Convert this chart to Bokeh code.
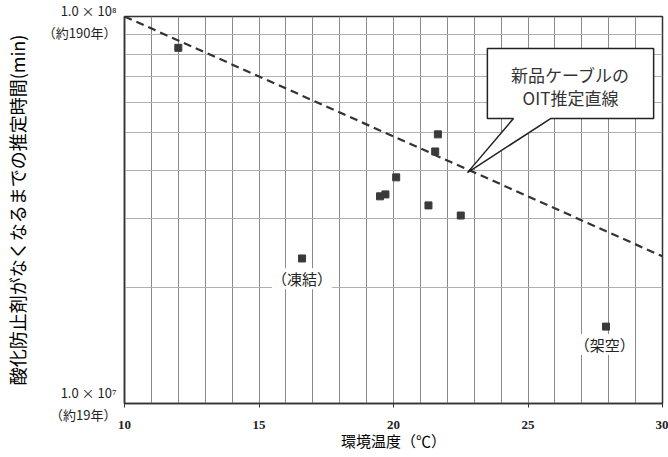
from bokeh.plotting import figure
from bokeh.models import Label, FixedTicker
from bokeh.embed import file_html
from bokeh.resources import INLINE

# data
temps = [12.0, 16.6, 19.5, 19.7, 20.1, 21.3, 21.55, 21.65, 22.5, 27.9]
times = [8.3e7, 2.37e7, 3.43e7, 3.47e7, 3.84e7, 3.25e7, 4.48e7, 4.96e7, 3.06e7, 1.58e7]
line_x = [10, 30]
line_y = [1.0e8, 2.4e7]
x_ticks = [10, 15, 20, 25, 30]
x_grid = list(range(10, 31))
y_grid = [2e7, 3e7, 4e7, 5e7, 6e7, 7e7, 8e7, 9e7]
y_ticks = [1e7, 1e8]
y_tick_labels = ["1.0 × 10⁷\n（約19年）", "1.0 × 10⁸\n（約190年）"]

JP = "Noto Sans CJK JP"

p = figure(width=668, height=457, x_range=(10, 30), y_range=(1e7, 1e8),
           y_axis_type="log", output_backend="svg", toolbar_location=None,
           min_border_left=123, min_border_right=6, min_border_top=16,
           min_border_bottom=54, background_fill_color="white")

p.outline_line_color = "#333333"
p.outline_line_width = 1.5

p.xgrid.ticker = FixedTicker(ticks=x_grid)
p.xgrid.grid_line_color = "#8a8a8a"
p.xgrid.grid_line_width = 1
p.ygrid.ticker = FixedTicker(ticks=y_grid)
p.ygrid.grid_line_color = "#b0b0b0"
p.ygrid.grid_line_width = 1

xa = p.xaxis[0]
xa.ticker = FixedTicker(ticks=x_ticks)
xa.axis_line_color = "#333333"
xa.axis_line_width = 1.5
xa.major_tick_out = 4
xa.major_tick_in = 0
xa.major_tick_line_color = "#333333"
xa.minor_tick_line_color = None
xa.major_label_standoff = 13
xa.major_label_text_font = "Liberation Sans Narrow"
xa.major_label_text_font_style = "bold"
xa.major_label_text_font_size = "13px"
xa.major_label_text_color = "#222222"
xa.axis_label = "環境温度（℃）"
xa.axis_label_text_font = JP
xa.axis_label_text_font_style = "normal"
xa.axis_label_text_font_size = "15px"
xa.axis_label_text_color = "#000000"
xa.axis_label_standoff = -2

ya = p.yaxis[0]
ya.ticker = FixedTicker(ticks=y_ticks)
ya.major_label_overrides = dict(zip(y_ticks, y_tick_labels))
ya.axis_line_color = "#333333"
ya.axis_line_width = 1.5
ya.major_tick_line_color = None
ya.major_tick_out = 0
ya.major_tick_in = 0
ya.minor_tick_line_color = None
ya.major_label_standoff = 8
ya.major_label_text_font = JP
ya.major_label_text_font_size = "13px"
ya.major_label_text_color = "#222222"
ya.axis_label = "酸化防止剤がなくなるまでの推定時間(min)"
ya.axis_label_text_font = JP
ya.axis_label_text_font_style = "normal"
ya.axis_label_text_font_size = "18px"
ya.axis_label_text_color = "#000000"
ya.axis_label_standoff = 10

# estimated line
p.line(line_x, line_y, line_color="#333333", line_width=2.2, line_dash="8 5")

# data points
p.scatter(temps, times, marker="square", size=7, fill_color="#3a3a3a",
          line_color="#3a3a3a")

# callout box
box_x = [23.49, 29.67, 29.67, 25.84, 22.75, 24.46, 23.49]
box_y = [8.27e7, 8.27e7, 5.45e7, 5.45e7, 3.95e7, 5.45e7, 5.45e7]
p.patch(box_x, box_y, fill_color="white", line_color="#222222", line_width=1.5)
call_style = dict(text_font=JP, text_font_size="17px", text_color="#333333",
                  text_align="center", text_baseline="middle")
p.add_layout(Label(x=26.58, y=7.08e7, text="新品ケーブルの", **call_style))
p.add_layout(Label(x=26.58, y=6.18e7, text="OIT推定直線", **call_style))

# site labels
site_style = dict(text_font=JP, text_font_size="15px", text_color="#222222",
                  text_align="center", text_baseline="middle",
                  background_fill_color="white")
p.add_layout(Label(x=16.6, y=2.1e7, text="（凍結）", **site_style))
p.add_layout(Label(x=27.85, y=1.42e7, text="（架空）", **site_style))

open("out.html", "w").write(file_html(p, INLINE))
